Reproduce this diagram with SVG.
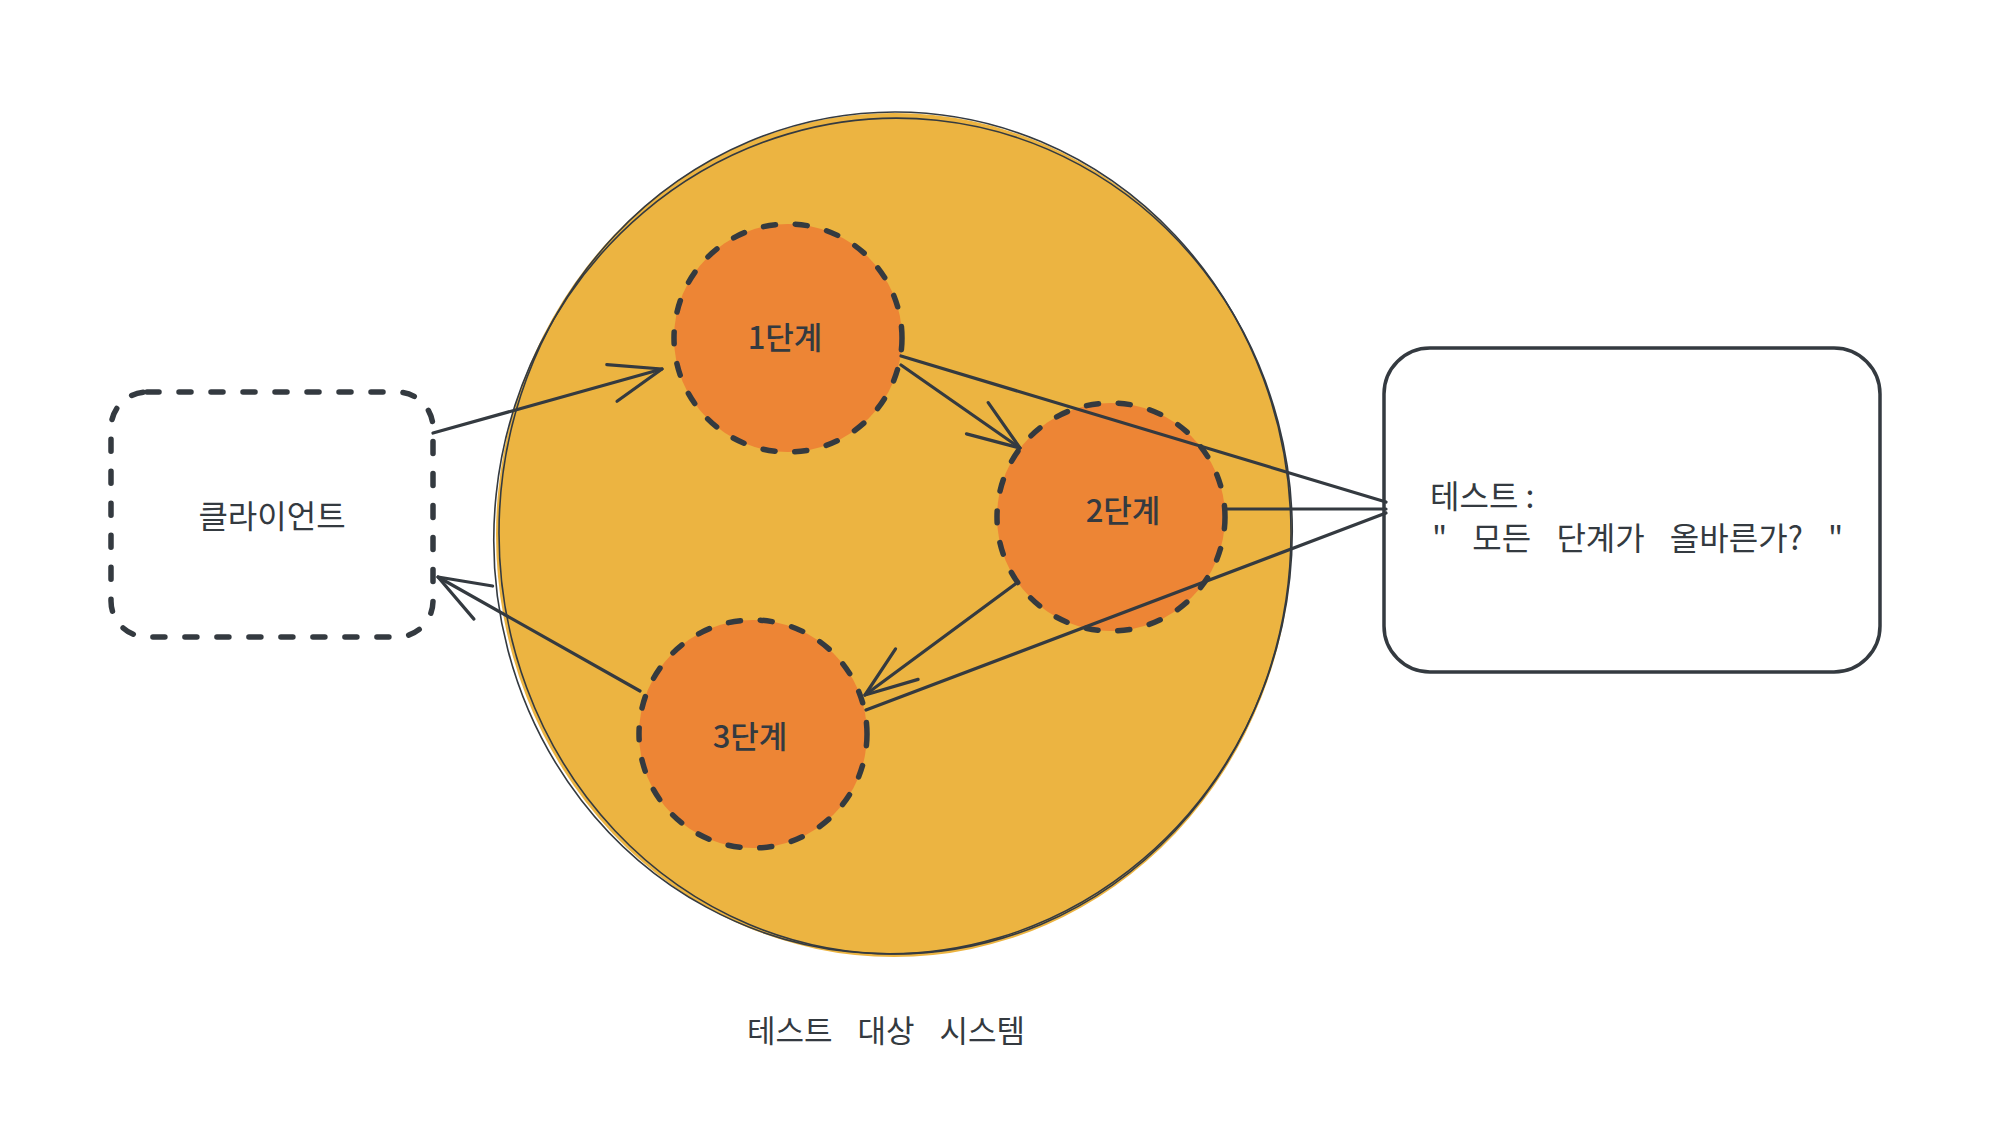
<svg xmlns="http://www.w3.org/2000/svg" width="1996" height="1132" viewBox="0 0 1996 1132">
<style>
  text { font-family: "Noto Sans CJK KR", "Noto Sans", sans-serif; fill: #343a40; }
  .lbl { font-size: 31px; text-anchor: middle; font-weight: 500; }
  .dash { stroke: #343a40; stroke-width: 5.5; stroke-linecap: round; stroke-dasharray: 12 20; }
  .step { fill: #ed8535; }
  .sketch { fill: none; stroke: #343a40; stroke-width: 1.6; }
  .conn { fill: none; stroke: #343a40; stroke-width: 3.2; stroke-linecap: round; }
</style>
<defs>
  <marker id="open" viewBox="-60 -25 66 50" refX="0" refY="0" markerWidth="66" markerHeight="50" markerUnits="userSpaceOnUse" orient="auto">
    <path d="M -52 -19 L 0 0 L -52 19" fill="none" stroke="#343a40" stroke-width="3.2" stroke-linecap="round" stroke-linejoin="round"/>
  </marker>
</defs>
<rect width="1996" height="1132" fill="#ffffff"/>

<g id="system">
  <ellipse cx="894" cy="535" rx="398" ry="422" fill="#ecb441"/>
  <ellipse class="sketch" cx="895" cy="533" rx="396" ry="421"/>
  <ellipse class="sketch" cx="893" cy="536" rx="399" ry="418" transform="rotate(6 893 536)"/>
  <text x="886" y="1042" font-size="31" text-anchor="middle" word-spacing="18">테스트 대상 시스템</text>
</g>

<g id="client">
  <rect class="dash" x="111" y="392" width="322" height="245" rx="36" fill="none" stroke-dasharray="14 18" stroke-width="6"/>
  <text x="272" y="528" font-size="32" text-anchor="middle">클라이언트</text>
</g>

<g id="step1">
  <circle class="step" cx="788" cy="338" r="114"/>
  <circle class="dash" cx="788" cy="338" r="114" fill="none"/>
  <text class="lbl" x="785" y="349">1단계</text>
</g>

<g id="step2">
  <circle class="step" cx="1111" cy="517" r="114"/>
  <circle class="dash" cx="1111" cy="517" r="114" fill="none"/>
  <text class="lbl" x="1123" y="522">2단계</text>
</g>

<g id="step3">
  <circle class="step" cx="753" cy="734" r="114"/>
  <circle class="dash" cx="753" cy="734" r="114" fill="none"/>
  <text class="lbl" x="750" y="748">3단계</text>
</g>

<g id="test">
  <rect x="1384" y="348" width="496" height="324" rx="46" fill="#ffffff" stroke="#343a40" stroke-width="3.5"/>
  <text x="1430" y="508" font-size="32">테스트 :</text>
  <text x="1432" y="550" font-size="32" word-spacing="18">" 모든 단계가 올바른가? "</text>
</g>

<g id="connectors">
  <path class="conn" d="M 433 433 L 662 369" marker-end="url(#open)"/>
  <path class="conn" d="M 901 365 L 1020 448" marker-end="url(#open)"/>
  <path class="conn" d="M 1018 582 L 865 695" marker-end="url(#open)"/>
  <path class="conn" d="M 640 691 L 438 577" marker-end="url(#open)"/>
  <path class="conn" d="M 1386 502 L 901 356"/>
  <path class="conn" d="M 1386 509 L 1225 509" stroke-width="4.8"/>
  <path class="conn" d="M 1386 513 L 866 710"/>
</g>
</svg>
